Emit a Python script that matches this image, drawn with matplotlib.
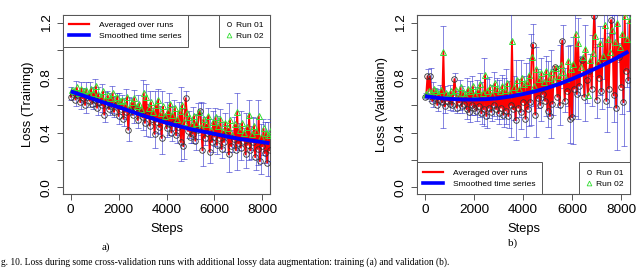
import numpy as np
import matplotlib
matplotlib.use("Agg")
import matplotlib.pyplot as plt
from matplotlib.lines import Line2D

plt.rcParams["font.family"] = ["Liberation Sans", "DejaVu Sans"]

# run 01 logged every 100 steps, run 02 offset by 50
steps = np.arange(0, 8400, 100)

train_run01 = [
    0.66, 0.68, 0.64, 0.67, 0.62, 0.65, 0.60, 0.66, 0.63, 0.61, 0.64,
    0.58, 0.62, 0.60, 0.53, 0.61, 0.57, 0.59, 0.55, 0.60, 0.52,
    0.57, 0.50, 0.55, 0.42, 0.56, 0.53, 0.58, 0.49, 0.54, 0.51,
    0.47, 0.53, 0.45, 0.50, 0.39, 0.48, 0.44, 0.36, 0.49, 0.43,
    0.46, 0.40, 0.47, 0.38, 0.44, 0.33, 0.30, 0.65, 0.41, 0.37,
    0.39, 0.34, 0.42, 0.56, 0.27, 0.36, 0.40, 0.26, 0.33, 0.37,
    0.31, 0.36, 0.28, 0.33, 0.38, 0.24, 0.30, 0.35, 0.27, 0.32,
    0.29, 0.34, 0.24, 0.31, 0.27, 0.33, 0.22, 0.28, 0.19, 0.30,
    0.25, 0.18, 0.27]
train_run02 = [
    0.71, 0.70, 0.73, 0.69, 0.72, 0.70, 0.71, 0.68, 0.72, 0.69, 0.74,
    0.68, 0.66, 0.70, 0.64, 0.67, 0.65, 0.69, 0.62, 0.66, 0.63,
    0.64, 0.60, 0.66, 0.58, 0.62, 0.65, 0.59, 0.61, 0.57, 0.69,
    0.66, 0.58, 0.62, 0.55, 0.60, 0.64, 0.54, 0.59, 0.52, 0.56,
    0.61, 0.53, 0.58, 0.50, 0.56, 0.60, 0.48, 0.54, 0.51, 0.46,
    0.52, 0.47, 0.55, 0.44, 0.50, 0.46, 0.52, 0.42, 0.48, 0.51,
    0.45, 0.50, 0.41, 0.47, 0.43, 0.49, 0.38, 0.46, 0.55, 0.42,
    0.47, 0.40, 0.44, 0.53, 0.39, 0.45, 0.41, 0.52, 0.37, 0.43,
    0.40, 0.38, 0.42]

val_run01 = [
    0.66, 0.81, 0.81, 0.63, 0.65, 0.60, 0.64, 0.62, 0.59, 0.63, 0.61,
    0.60, 0.79, 0.58, 0.62, 0.59, 0.61, 0.57, 0.55, 0.60, 0.58,
    0.56, 0.59, 0.54, 0.57, 0.52, 0.58, 0.55, 0.60, 0.57, 0.54,
    0.58, 0.53, 0.56, 0.52, 0.60, 0.57, 0.49, 0.58, 0.55, 0.62,
    0.50, 0.57, 0.62, 1.04, 0.53, 0.65, 0.60, 0.68, 0.63, 0.56,
    0.52, 0.61, 0.88, 0.66, 0.60, 1.07, 0.63, 0.70, 0.50, 0.51,
    0.72, 0.68, 0.74, 0.93, 0.66, 0.78, 0.85, 0.72, 1.25, 0.64,
    0.80, 0.70, 0.92, 0.63, 0.72, 1.22, 0.67, 0.58, 0.95, 0.73,
    0.62, 0.85, 0.78]
val_run02 = [
    0.68, 0.70, 0.69, 0.72, 0.70, 0.68, 0.71, 0.99, 0.69, 0.67, 0.70,
    0.68, 0.71, 0.66, 0.73, 0.69, 0.67, 0.72, 0.70, 0.74, 0.68,
    0.71, 0.75, 0.69, 0.82, 0.70, 0.73, 0.68, 0.76, 0.72, 0.70,
    0.74, 0.71, 0.76, 0.69, 1.07, 0.73, 0.78, 0.72, 0.80, 0.75,
    0.77, 0.82, 0.95, 0.74, 0.86, 0.79, 0.83, 0.77, 0.85, 0.80,
    0.84, 0.78, 0.87, 0.81, 0.89, 0.84, 0.79, 0.92, 0.86, 0.90,
    1.12, 1.05, 0.88, 0.95, 1.01, 0.67, 0.93, 0.98, 1.10, 0.91,
    1.05, 0.96, 1.18, 1.08, 0.99, 1.15, 1.06, 1.20, 1.02, 1.12,
    1.25, 1.08, 1.22]

# smoothed curves, read every 500 steps
smooth_steps = [0, 500, 1000, 1500, 2000, 2500, 3000, 3500, 4000, 4500,
                5000, 5500, 6000, 6500, 7000, 7500, 8000, 8300]
train_smooth = [0.700, 0.670, 0.640, 0.612, 0.585, 0.555, 0.525, 0.497, 0.470,
                0.447, 0.425, 0.407, 0.390, 0.372, 0.355, 0.342, 0.330, 0.322]
val_smooth = [0.665, 0.652, 0.645, 0.641, 0.640, 0.643, 0.650, 0.663, 0.680,
              0.700, 0.725, 0.755, 0.790, 0.828, 0.870, 0.913, 0.960, 0.990]

GREEN = "#33dd33"


def panel(ax, r1, r2, smooth, ylabel, legend_loc, xlim):
    r1 = np.array(r1)
    r2 = np.array(r2)
    s2 = steps + 50
    mid = (r1 + r2) / 2
    spread = np.abs(r1 - r2)
    ax.errorbar(steps + 25, mid, yerr=spread, fmt="none", ecolor="#3333cc",
                elinewidth=0.7, capsize=2.2, capthick=0.7, alpha=0.6, zorder=3)
    # red trace runs through both runs' points in step order
    xs = np.column_stack([steps, s2]).ravel()
    ys = np.column_stack([r1, r2]).ravel()
    ax.plot(xs, ys, color="red", lw=1.3, zorder=4)
    ax.plot(steps, r1, ls="none", marker="o", ms=4, mfc="none",
            mec="#333333", mew=0.6, zorder=5)
    ax.plot(s2, r2, ls="none", marker="^", ms=4.2, mfc="none",
            mec=GREEN, mew=0.7, zorder=5)
    ax.plot(smooth_steps, smooth, color="blue", lw=2.8, zorder=6,
            solid_capstyle="butt")

    ax.set_xlim(*xlim)
    ax.set_ylim(-0.048, 1.256)
    ax.set_xticks([0, 2000, 4000, 6000, 8000])
    ax.set_yticks([0.0, 0.2, 0.4, 0.6, 0.8, 1.0, 1.2])
    ax.set_yticklabels(["0.0", "", "0.4", "", "0.8", "", "1.2"],
                       rotation=90, va="center")
    ax.tick_params(labelsize=9.7, length=4.5, width=0.7, pad=3,
                   color="#555555")
    for s in ax.spines.values():
        s.set_color("#555555")
        s.set_linewidth(0.8)
    ax.set_xlabel("Steps", fontsize=9.3, labelpad=5)
    ax.set_ylabel(ylabel, fontsize=9.3, labelpad=5)

    line_handles = [Line2D([], [], color="red", lw=1.6),
                    Line2D([], [], color="blue", lw=2.6)]
    run_handles = [Line2D([], [], ls="none", marker="o", ms=3, mfc="none",
                          mec="#333333", mew=0.6),
                   Line2D([], [], ls="none", marker="^", ms=3.4, mfc="none",
                          mec=GREEN, mew=0.6)]
    if legend_loc == "top":
        locs = ("upper left", "upper right")
    else:
        locs = ("lower left", "lower right")
    leg1 = ax.legend(line_handles, ["Averaged over runs", "Smoothed time series"],
                     loc=locs[0], borderaxespad=0, fontsize=6.1, fancybox=False,
                     edgecolor="#555555", framealpha=1, handlelength=2.3,
                     borderpad=0.75, labelspacing=0.35, handletextpad=1.2)
    leg1.get_frame().set_linewidth(0.7)
    leg1.set_zorder(10)
    ax.add_artist(leg1)
    leg2 = ax.legend(run_handles, ["Run 01", "Run 02"], loc=locs[1],
                     borderaxespad=0, fontsize=6.1, fancybox=False,
                     edgecolor="#555555", framealpha=1, handlelength=0.8,
                     borderpad=0.75, labelspacing=0.35, handletextpad=0.5)
    leg2.get_frame().set_linewidth(0.7)
    leg2.set_zorder(10)


fig = plt.figure(figsize=(6.4, 2.7), dpi=100)
ax1 = fig.add_axes([63 / 640, 1 - 194 / 270, 207 / 640, 179 / 270])
ax2 = fig.add_axes([417 / 640, 1 - 194 / 270, 213 / 640, 179 / 270])

panel(ax1, train_run01, train_run02, train_smooth, "Loss (Training)", "top",
      (-320, 8320))
panel(ax2, val_run01, val_run02, val_smooth, "Loss (Validation)", "bottom",
      (-327, 8367))

fig.text(106 / 640, 1 - 247 / 270, "a)", family="Liberation Serif",
         fontsize=8, ha="center", va="center")
fig.text(513 / 640, 1 - 243 / 270, "b)", family="Liberation Serif",
         fontsize=8, ha="center", va="center")
fig.text(1 / 640, 1 - 262 / 270,
         "g. 10. Loss during some cross-validation runs with additional lossy "
         "data augmentation: training (a) and validation (b).",
         family="Liberation Serif", fontsize=6.85, ha="left", va="center")

fig.savefig("out.png", dpi=100)
